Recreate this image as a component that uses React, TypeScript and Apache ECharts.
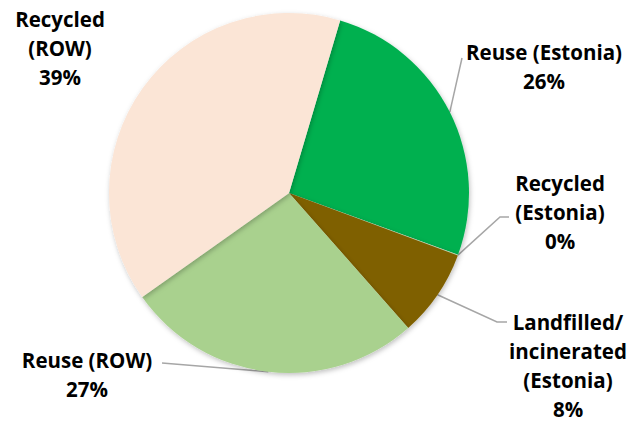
import React, { useEffect, useRef } from "react";
import * as echarts from "echarts";

const categories = [
  "Reuse (Estonia)",
  "Recycled\n(Estonia)",
  "Landfilled/\nincinerated\n(Estonia)",
  "Reuse (ROW)",
  "Recycled\n(ROW)",
];
const values = [26.0, 0.05, 7.85, 26.7, 39.4];
const colors = ["#00B050", "#C5E0B4", "#7F6000", "#A9D18E", "#FBE5D6"];

const CX = 289;
const CY = 193;
const R = 180;
const START = 73.5; // degrees, ECharts convention

// label text centres and leader line points (layout only)
const labelPos: [number, number][] = [
  [544, 66],
  [560, 212],
  [568, 365],
  [87, 374],
  [60, 48],
];
const leaderTail: ([number, number][] | null)[] = [
  [[462, 58]],
  [[500, 217], [509, 217]],
  [[497, 322], [507, 322]],
  [[162, 363]],
  null,
];

export default function App() {
  const ref = useRef<HTMLDivElement>(null);
  useEffect(() => {
    document.body.style.margin = "0";
    const chart = echarts.init(ref.current!, null, { renderer: "svg" });
    const total = values.reduce((a, b) => a + b, 0);
    const mids: number[] = [];
    let acc = 0;
    values.forEach((v) => {
      const mid = acc + v / 2;
      mids.push(((90 - START) + (mid / total) * 360) * (Math.PI / 180));
      acc += v;
    });
    chart.setOption({
      animation: false,
      series: [
        {
          type: "pie",
          center: [CX, CY],
          radius: R,
          startAngle: START,
          clockwise: true,
          percentPrecision: 0,
          minShowLabelAngle: 0,
          itemStyle: {
            borderWidth: 0,
            shadowBlur: 5,
            shadowColor: "rgba(0,0,0,0.25)",
            shadowOffsetX: 1,
            shadowOffsetY: 2,
          },
          label: {
            show: true,
            position: "outside",
            formatter: (p: any) => `${p.name}\n${Math.round(p.percent)}%`,
            fontFamily: "Open Sans",
            fontWeight: "bold",
            fontSize: 20.5,
            lineHeight: 29,
            color: "#000",
            align: "center",
            overflow: "none",
            bleedMargin: 0,
            edgeDistance: 0,
          },
          labelLine: {
            show: true,
            lineStyle: { color: "#A6A6A6", width: 1.5 },
          },
          labelLayout: (params: any) => {
            const i = params.dataIndex;
            const a = mids[i];
            const edge: [number, number] = [CX + R * Math.sin(a), CY - R * Math.cos(a)];
            const tail = leaderTail[i];
            const out: any = {
              x: labelPos[i][0],
              y: labelPos[i][1],
              align: "center",
              verticalAlign: "middle",
              width: 200,
            };
            if (tail) out.labelLinePoints = [edge, ...tail];
            return out;
          },
          data: categories.map((c, i) => ({
            name: c,
            value: values[i],
            itemStyle: { color: colors[i] },
            labelLine: { show: i !== 4 },
          })),
        },
      ],
    });
    return () => chart.dispose();
  }, []);
  return <div ref={ref} style={{ width: 644, height: 421 }} />;
}
